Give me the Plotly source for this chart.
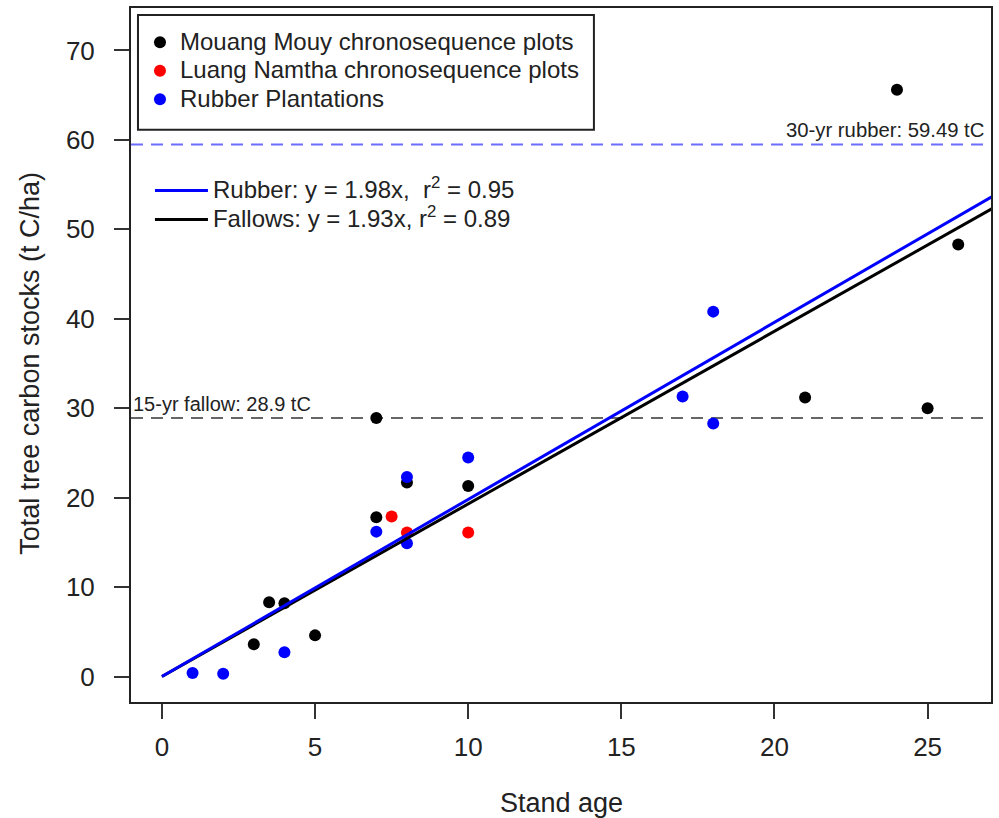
import plotly.graph_objects as go

# ---- data ----
mm_age = [3, 3.5, 4, 5, 7, 7, 8, 10, 21, 24, 25, 26]
mm_carbon = [3.6, 8.3, 8.2, 4.6, 17.8, 28.9, 21.7, 21.3, 31.2, 65.6, 30.0, 48.3]

ln_age = [7.5, 8, 10]
ln_carbon = [17.9, 16.1, 16.1]

rb_age = [1, 2, 4, 7, 8, 8, 10, 17, 18, 18]
rb_carbon = [0.4, 0.3, 2.7, 16.2, 22.3, 14.9, 24.5, 31.3, 40.8, 28.3]

rb30_age = [18]
rb30_carbon = [61.1]

fallow15_ref = 28.9
rubber30_ref = 59.49
rubber_slope = 1.98
fallow_slope = 1.93
line_x = [0, 28]

x_ticks = [0, 5, 10, 15, 20, 25]
y_ticks = [0, 10, 20, 30, 40, 50, 60, 70]

FONT = "Liberation Sans, Arial, sans-serif"

# plot-area geometry in pixels (used for paper-coordinate placement of legend box)
PL, PR, PT, PB = 131, 993, 6, 702


def px_x(p):
    return (p - PL) / (PR - PL)


def px_y(p):
    return (PB - p) / (PB - PT)


def big(txt):
    return "<span style='font-size:24px'>" + txt + "</span>"


fig = go.Figure()

fig.add_trace(go.Scatter(x=mm_age, y=mm_carbon, mode="markers",
                         name=big("Mouang Mouy chronosequence plots"),
                         marker=dict(color="black", size=12), legend="legend"))
fig.add_trace(go.Scatter(x=ln_age, y=ln_carbon, mode="markers",
                         name=big("Luang Namtha chronosequence plots"),
                         marker=dict(color="#FF0000", size=12), legend="legend"))
fig.add_trace(go.Scatter(x=rb_age, y=rb_carbon, mode="markers",
                         name=big("Rubber Plantations"),
                         marker=dict(color="#0000FF", size=12), legend="legend"))
fig.add_trace(go.Scatter(x=rb30_age, y=rb30_carbon, mode="markers",
                         showlegend=False,
                         marker=dict(color="white", size=11, symbol="circle-open",
                                     line=dict(color="#0000FF", width=2))))

fig.add_trace(go.Scatter(x=line_x, y=[fallow_slope * v for v in line_x], mode="lines",
                         name=big("Fallows: y = 1.93x, r<sup>2</sup> = 0.89"),
                         line=dict(color="black", width=3), legend="legend2",
                         legendrank=2))
fig.add_trace(go.Scatter(x=line_x, y=[rubber_slope * v for v in line_x], mode="lines",
                         name=big("Rubber: y = 1.98x,  r<sup>2</sup> = 0.95"),
                         line=dict(color="#0000FF", width=3), legend="legend2",
                         legendrank=1))

fig.add_shape(type="line", xref="paper", x0=0, x1=1, yref="y",
              y0=fallow15_ref, y1=fallow15_ref, layer="below",
              line=dict(color="#666666", width=2, dash="12px,8px"))
fig.add_shape(type="line", xref="paper", x0=0, x1=1, yref="y",
              y0=rubber30_ref, y1=rubber30_ref, layer="below",
              line=dict(color="rgba(60,60,255,0.75)", width=2, dash="12px,8px"))

# legend frame
fig.add_shape(type="rect", xref="paper", yref="paper",
              x0=px_x(138), x1=px_x(595), y0=px_y(128), y1=px_y(13),
              line=dict(color="#222222", width=2), fillcolor="rgba(0,0,0,0)")

fig.add_annotation(xref="paper", x=0, xanchor="left", xshift=0,
                   yref="y", y=fallow15_ref, yanchor="bottom", yshift=1,
                   text="15-yr fallow: 28.9 tC", showarrow=False,
                   font=dict(family=FONT, size=20, color="#222222"))
fig.add_annotation(xref="paper", x=1, xanchor="right", xshift=-5,
                   yref="y", y=rubber30_ref, yanchor="bottom", yshift=1,
                   text="30-yr rubber: 59.49 tC", showarrow=False,
                   font=dict(family=FONT, size=20.3, color="#222222"))

# axis titles
fig.add_annotation(xref="paper", x=0.5, yref="paper", y=-0.145, yanchor="middle",
                   text="Stand age", showarrow=False,
                   font=dict(family=FONT, size=27, color="#222222"))
fig.add_annotation(xref="paper", x=-0.117, xanchor="center", yref="paper", y=0.488,
                   yanchor="middle", textangle=-90,
                   text="Total tree carbon stocks (t C/ha)", showarrow=False,
                   font=dict(family=FONT, size=27, color="#222222"))

axis_common = dict(showgrid=False, zeroline=False, showline=True, mirror=True,
                   linecolor="#222222", linewidth=2, ticks="outside",
                   tickcolor="#333333", tickwidth=1.5, ticklen=15,
                   tickfont=dict(family=FONT, size=26, color="#222222"))

fig.update_xaxes(range=[-1.01, 27.07], tickvals=x_ticks, ticklabelstandoff=6,
                 **axis_common)
fig.update_yaxes(range=[-2.85, 74.75], tickvals=y_ticks, ticklabelstandoff=14,
                 **axis_common)

fig.update_layout(
    width=999, height=818,
    margin=dict(l=PL, r=999 - PR, t=PT, b=818 - PB),
    plot_bgcolor="white", paper_bgcolor="white",
    font=dict(family=FONT, color="#222222"),
    legend=dict(x=px_x(140), xanchor="left", y=px_y(21), yanchor="top",
                borderwidth=0, bgcolor="rgba(0,0,0,0)",
                font=dict(family=FONT, size=19.6, color="#222222"),
                itemsizing="constant"),
    legend2=dict(x=px_x(150), xanchor="left", y=0.765, yanchor="top",
                 borderwidth=0, bgcolor="rgba(0,0,0,0)", itemwidth=53,
                 font=dict(family=FONT, size=20, color="#222222"),
                 traceorder="normal"),
)

fig.write_html("out.html", config={"displayModeBar": False},
               post_script="document.body.style.margin='0';")
